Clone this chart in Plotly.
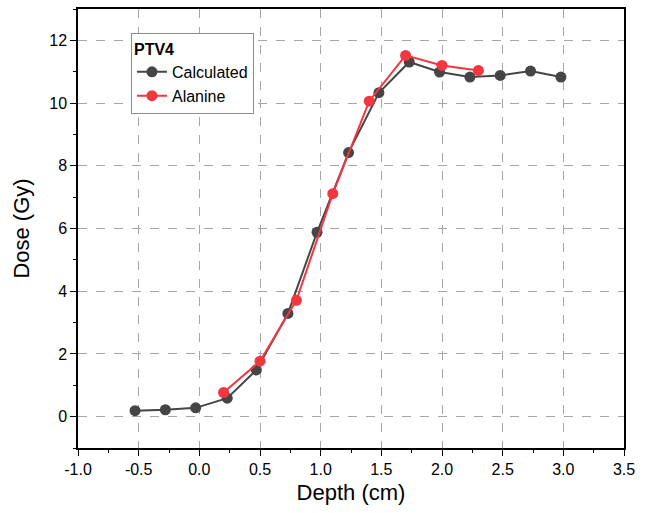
import plotly.graph_objects as go

# Data
calc_x = [-0.53, -0.28, -0.03, 0.23, 0.47, 0.73, 0.97, 1.23, 1.48, 1.73, 1.98, 2.23, 2.48, 2.73, 2.98]
calc_y = [0.19, 0.22, 0.28, 0.59, 1.49, 3.29, 5.88, 8.42, 10.33, 11.31, 10.99, 10.83, 10.88, 11.02, 10.83]
ala_x = [0.2, 0.5, 0.8, 1.1, 1.4, 1.7, 2.0, 2.3]
ala_y = [0.77, 1.77, 3.71, 7.11, 10.06, 11.52, 11.20, 11.04]

x_ticks = [-1.0, -0.5, 0.0, 0.5, 1.0, 1.5, 2.0, 2.5, 3.0, 3.5]
y_ticks = [0, 2, 4, 6, 8, 10, 12]

FONT = "Liberation Sans, Arial, sans-serif"
CALC_COLOR = "#454545"
ALA_COLOR = "#f2373f"

fig = go.Figure()
fig.add_trace(go.Scatter(
    x=calc_x, y=calc_y, mode="lines+markers", name="Calculated",
    line=dict(color=CALC_COLOR, width=2),
    marker=dict(color=CALC_COLOR, size=11),
))
fig.add_trace(go.Scatter(
    x=ala_x, y=ala_y, mode="lines+markers", name="Alanine",
    line=dict(color=ALA_COLOR, width=2),
    marker=dict(color=ALA_COLOR, size=11),
))

axis_common = dict(
    showline=True, linecolor="black", linewidth=1.5, mirror=True,
    ticks="outside", ticklen=6, tickwidth=1.2, tickcolor="black",
    showgrid=True, gridcolor="#a6a6a6", griddash="dash", gridwidth=1,
    zeroline=False,
    tickfont=dict(family=FONT, size=16, color="black"),
)

fig.update_xaxes(
    range=[-1.0, 3.5], tickvals=x_ticks,
    ticktext=[f"{v:.1f}" for v in x_ticks],
    title=dict(text="Depth (cm)", font=dict(family=FONT, size=22, color="black"), standoff=8),
    minor=dict(dtick=0.25, tick0=0, ticks="outside", ticklen=3, tickcolor="black", showgrid=False),
    **axis_common,
)
fig.update_yaxes(
    range=[-1.0, 13.0], tickvals=y_ticks,
    title=dict(text="Dose (Gy)", font=dict(family=FONT, size=22, color="black"), standoff=14),
    minor=dict(dtick=1, tick0=0, ticks="outside", ticklen=3, tickcolor="black", showgrid=False),
    **axis_common,
)

fig.update_layout(
    width=650, height=513,
    margin=dict(l=78, r=26, t=7, b=65),
    plot_bgcolor="white", paper_bgcolor="white",
    font=dict(family=FONT, color="black"),
    legend=dict(
        title=dict(text="<b>PTV4</b>", font=dict(family=FONT, size=16)),
        x=0.097, y=0.945, xanchor="left", yanchor="top",
        bgcolor="white", bordercolor="#8c8c8c", borderwidth=1,
        font=dict(family=FONT, size=16),
        tracegroupgap=0, itemwidth=30,
    ),
)

fig.write_html("out.html")
